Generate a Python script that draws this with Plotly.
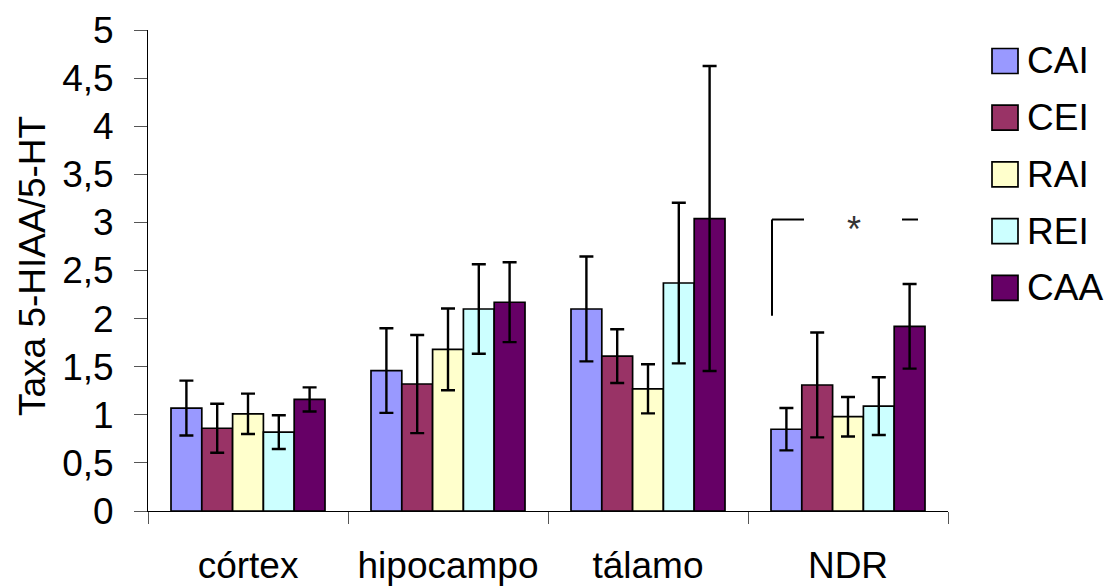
import plotly.graph_objects as go

categories = ["córtex", "hipocampo", "tálamo", "NDR"]
series_names = ["CAI", "CEI", "RAI", "REI", "CAA"]
colors = ["#9999FF", "#993366", "#FFFFCC", "#CCFFFF", "#660066"]

CAI = [1.07, 1.46, 2.10, 0.85]
CEI = [0.86, 1.32, 1.61, 1.31]
RAI = [1.01, 1.68, 1.27, 0.98]
REI = [0.82, 2.10, 2.37, 1.09]
CAA = [1.16, 2.17, 3.04, 1.92]

CAI_err = [0.285, 0.44, 0.545, 0.22]
CEI_err = [0.255, 0.51, 0.28, 0.545]
RAI_err = [0.21, 0.425, 0.255, 0.205]
REI_err = [0.175, 0.465, 0.835, 0.30]
CAA_err = [0.125, 0.415, 1.585, 0.44]

values = [CAI, CEI, RAI, REI, CAA]
errors = [CAI_err, CEI_err, RAI_err, REI_err, CAA_err]

y_ticks = [0, 0.5, 1, 1.5, 2, 2.5, 3, 3.5, 4, 4.5, 5]
y_tick_text = ["0", "0,5", "1", "1,5", "2", "2,5", "3", "3,5", "4", "4,5", "5"]
y_title = "Taxa 5-HIAA/5-HT"

# significance bracket (NDR group), in axis units
sig_y = 3.03
sig_y_low = 2.03
sig_x_left = [2.62, 2.78]
sig_star_x = 3.03
sig_x_right = [3.27, 3.35]

W, H = 1117, 586
ML, MR, MT, MB = 148, 169, 30, 75
PW, PH = W - ML - MR, H - MT - MB
FONT = "Liberation Sans, Arial, sans-serif"
FS = 37

fig = go.Figure()
for name, vals, errs, col in zip(series_names, values, errors, colors):
    fig.add_trace(go.Bar(
        x=categories, y=vals, name=name,
        marker=dict(color=col, line=dict(color="black", width=1.7)),
        error_y=dict(type="data", array=errs, visible=True,
                     color="black", thickness=2.4, width=7),
        showlegend=False,
    ))

shapes = []
annotations = []
# significance marks
shapes.append(dict(type="line", xref="x", yref="y", x0=sig_x_left[0], x1=sig_x_left[0],
                   y0=sig_y_low, y1=sig_y, line=dict(color="black", width=2)))
shapes.append(dict(type="line", xref="x", yref="y", x0=sig_x_left[0], x1=sig_x_left[1],
                   y0=sig_y, y1=sig_y, line=dict(color="black", width=2)))
shapes.append(dict(type="line", xref="x", yref="y", x0=sig_x_right[0], x1=sig_x_right[1],
                   y0=sig_y, y1=sig_y, line=dict(color="black", width=2)))
annotations.append(dict(x=sig_star_x, y=sig_y, xref="x", yref="y", text="*",
                        showarrow=False, yshift=-10,
                        font=dict(family=FONT, size=36, color="#333333")))


def px_x(p):
    return (p - ML) / PW


def px_y(p):
    return (H - MB - p) / PH


# y-axis title
annotations.append(dict(x=px_x(32), y=px_y(266), xref="paper", yref="paper", text=y_title,
                        textangle=-90, showarrow=False, xanchor="center", yanchor="middle",
                        font=dict(family=FONT, size=FS, color="black")))

# manual legend (pixel layout converted to paper coords)
leg_top = 61
leg_step = 56.7
for i, (name, col) in enumerate(zip(series_names, colors)):
    cy = leg_top + i * leg_step
    shapes.append(dict(type="rect", xref="paper", yref="paper",
                       x0=px_x(992), x1=px_x(1018), y0=px_y(cy + 12.5), y1=px_y(cy - 12.5),
                       fillcolor=col, line=dict(color="black", width=1.7)))
    annotations.append(dict(x=px_x(1025), y=px_y(cy), xref="paper", yref="paper",
                            text=name, showarrow=False, xanchor="left", yanchor="middle",
                            font=dict(family=FONT, size=FS, color="black")))

fig.update_layout(
    width=W, height=H,
    margin=dict(l=ML, r=MR, t=MT, b=MB, autoexpand=False),
    paper_bgcolor="white", plot_bgcolor="white",
    barmode="group", bargap=0.23, bargroupgap=0,
    font=dict(family=FONT, size=FS, color="black"),
    shapes=shapes, annotations=annotations,
    xaxis=dict(
        type="category", range=[-0.5, 3.5],
        showline=True, linecolor="black", linewidth=1,
        ticks="outside", tickson="boundaries", ticklen=12, tickcolor="#555555",
        ticklabelstandoff=22,
        tickfont=dict(family=FONT, size=FS, color="black"),
        showgrid=False, zeroline=False,
    ),
    yaxis=dict(
        range=[0, 5],
        tickvals=y_ticks, ticktext=y_tick_text,
        showline=True, linecolor="black", linewidth=1,
        ticks="outside", ticklen=13, tickcolor="#555555",
        ticklabelstandoff=13,
        tickfont=dict(family=FONT, size=FS, color="black"),
        showgrid=False, zeroline=False,
    ),
)

fig.write_html("out.html")
